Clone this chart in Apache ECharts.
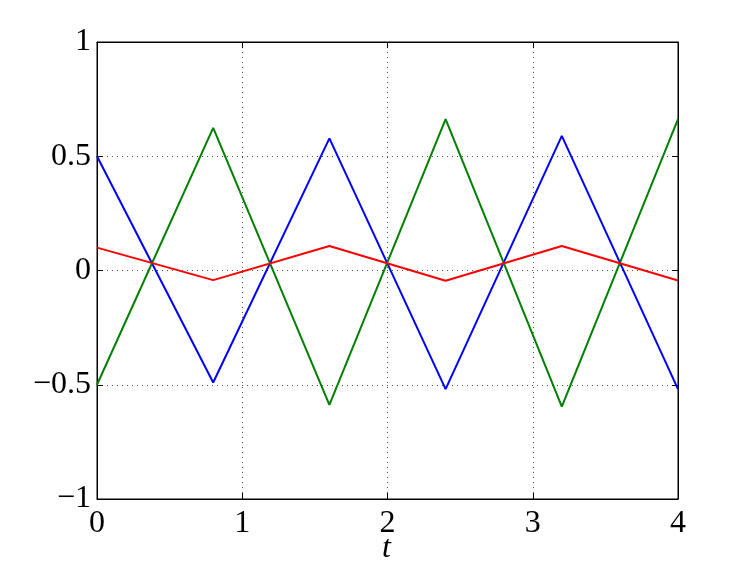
<!DOCTYPE html>
<html>
<head>
<meta charset="utf-8">
<script src="https://cdn.jsdelivr.net/npm/echarts@6/dist/echarts.min.js"></script>
<style>
  html, body { margin: 0; padding: 0; background: #fff; }
  #chart { width: 747px; height: 562px; }
</style>
</head>
<body>
<div id="chart"></div>
<script>
// vertex times and values
const tValues = [0, 0.8, 1.6, 2.4, 3.2, 4];
const blueValues = [0.5, -0.49, 0.578, -0.519, 0.589, -0.519];
const greenValues = [-0.5, 0.624, -0.588, 0.662, -0.596, 0.662];
const redValues = [0.1, -0.042, 0.107, -0.045, 0.107, -0.044];

const fontFamily = 'Liberation Serif';
const pairs = (vals) => tValues.map((t, i) => [t, vals[i]]);
const minusFmt = (v) => String(v).replace('-', '\u2212');

const chart = echarts.init(document.getElementById('chart'));

const gridLine = {
  show: true,
  lineStyle: { color: '#555', type: [1, 4], width: 1 },
};
const tick = { show: true, inside: true, length: 6, lineStyle: { color: '#000' } };

const option = {
  animation: false,
  backgroundColor: '#fff',
  // x axis name, drawn as a title under the axis
  title: {
    text: 't',
    left: 382,
    top: 533,
    padding: 0,
    textStyle: {
      fontFamily: fontFamily, fontStyle: 'italic', fontWeight: 'normal',
      fontSize: 32, color: '#000',
    },
  },
  grid: {
    left: 97, right: 69, top: 42, bottom: 63,
    outerBoundsMode: 'none',
    show: true, borderColor: '#000', borderWidth: 1,
  },
  xAxis: [
    {
      type: 'value', min: 0, max: 4, interval: 1,
      axisLine: { show: true, onZero: false, lineStyle: { color: '#000' } },
      axisTick: tick,
      axisLabel: { fontFamily: fontFamily, fontSize: 32, color: '#000', margin: 9 },
      splitLine: gridLine,
    },
    {
      type: 'value', min: 0, max: 4, interval: 1, position: 'top',
      axisLine: { show: true, onZero: false, lineStyle: { color: '#000' } },
      axisTick: tick, axisLabel: { show: false }, splitLine: { show: false },
    },
  ],
  yAxis: [
    {
      type: 'value', min: -1, max: 1, interval: 0.5,
      axisLine: { show: true, onZero: false, lineStyle: { color: '#000' } },
      axisTick: tick,
      axisLabel: { fontFamily: fontFamily, fontSize: 32, color: '#000', margin: 6, formatter: minusFmt },
      splitLine: gridLine,
    },
    {
      type: 'value', min: -1, max: 1, interval: 0.5, position: 'right',
      axisLine: { show: true, onZero: false, lineStyle: { color: '#000' } },
      axisTick: tick, axisLabel: { show: false }, splitLine: { show: false },
    },
  ],
  series: [
    { type: 'line', data: pairs(blueValues), showSymbol: false, lineStyle: { color: '#0000ff', width: 2 } },
    { type: 'line', data: pairs(greenValues), showSymbol: false, lineStyle: { color: '#008000', width: 2 } },
    { type: 'line', data: pairs(redValues), showSymbol: false, lineStyle: { color: '#ff0000', width: 2 } },
  ],
};
chart.setOption(option);
</script>
</body>
</html>
